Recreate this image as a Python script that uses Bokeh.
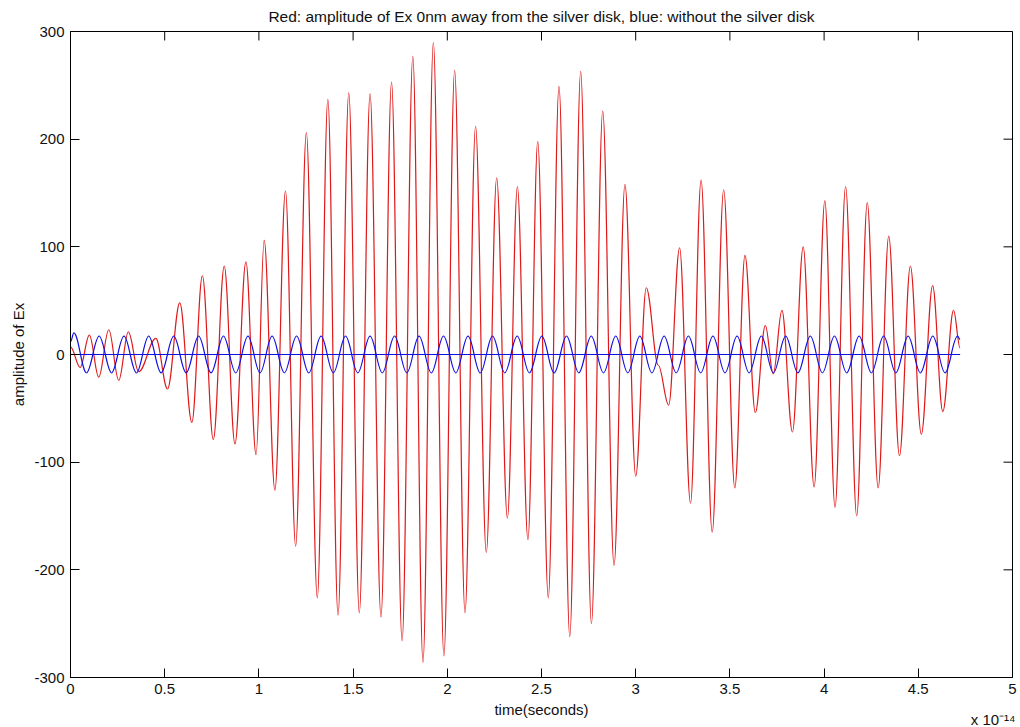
import numpy as np
from bokeh.plotting import figure
from bokeh.models import FixedTicker, NumeralTickFormatter, Range1d, Title
from bokeh.embed import file_html
from bokeh.resources import INLINE

# ---- data (time in units of 1e-14 s) ----
red_t = [0.000, 0.051, 0.100, 0.150, 0.203, 0.256, 0.307, 0.362, 0.453, 0.515,
         0.580, 0.644, 0.700, 0.758, 0.816, 0.873, 0.931, 0.985, 1.028, 1.085,
         1.141, 1.195, 1.252, 1.310, 1.366, 1.420, 1.477, 1.533, 1.590, 1.648,
         1.704, 1.760, 1.817, 1.871, 1.926, 1.982, 2.039, 2.094, 2.150, 2.207,
         2.262, 2.319, 2.372, 2.428, 2.480, 2.536, 2.593, 2.650, 2.708, 2.765,
         2.825, 2.885, 2.943, 3.000, 3.056, 3.120, 3.175, 3.233, 3.291, 3.347,
         3.406, 3.467, 3.526, 3.580, 3.635, 3.688, 3.730, 3.776, 3.832, 3.889,
         3.947, 4.004, 4.058, 4.114, 4.173, 4.229, 4.287, 4.343, 4.400, 4.458,
         4.516, 4.576, 4.630, 4.687, 4.722]
red_v = [7, -12, 18, -21, 23, -24, 21, -16, 15, -32,
         48, -63, 73, -79, 82, -83, 86, -93, 106, -126,
         152, -178, 206, -226, 237, -242, 243, -240, 242, -244,
         253, -266, 277, -286, 290, -280, 264, -240, 212, -184,
         164, -152, 156, -172, 198, -226, 249, -262, 263, -250,
         226, -196, 158, -113, 62, -10, -47, 99, -138, 162,
         -165, 153, -124, 92, -54, 27, -18, 41, -72, 100,
         -123, 143, -142, 156, -150, 141, -124, 110, -94, 82,
         -74, 64, -53, 41, 6]

blue_start_t, blue_start_v = 0.0, 12
blue_end_t, blue_end_v = 4.722, 14
blue_peak_t = [0.018, 0.152, 0.284, 0.415, 0.548, 0.680, 0.812, 0.942, 1.070, 1.200,
               1.330, 1.460, 1.590, 1.720, 1.850, 1.980, 2.110, 2.240, 2.371, 2.502,
               2.633, 2.764, 2.894, 3.022, 3.151, 3.280, 3.410, 3.538, 3.667, 3.796,
               3.927, 4.055, 4.186, 4.316, 4.446, 4.577, 4.708]
blue_peak_v = [20] + [17] * 36
blue_trough_t = [0.085, 0.218, 0.350, 0.481, 0.614, 0.746, 0.877, 1.006, 1.135, 1.265,
                 1.395, 1.525, 1.655, 1.785, 1.915, 2.045, 2.175, 2.305, 2.436, 2.567,
                 2.698, 2.829, 2.958, 3.086, 3.215, 3.345, 3.474, 3.602, 3.731, 3.861,
                 3.991, 4.120, 4.251, 4.381, 4.511, 4.642]
blue_trough_v = [-17] * 36

zero_t = [0.0, 4.722]
zero_v = [0, 0]

x_ticks = [0, 0.5, 1, 1.5, 2, 2.5, 3, 3.5, 4, 4.5, 5]
y_ticks = [-300, -200, -100, 0, 100, 200, 300]
x_min, x_max = 0, 5
y_min, y_max = -300, 300

title_text = "Red: amplitude of Ex 0nm away from the silver disk, blue: without the silver disk"
x_label = "time(seconds)"
y_label = "amplitude of Ex"
x_exponent = "x 10\u207b\u00b9\u2074"

# ---- build blue sequence (extrema in time order) ----
blue_t = [blue_start_t]
blue_v = [blue_start_v]
for i in range(len(blue_peak_t)):
    blue_t.append(blue_peak_t[i]); blue_v.append(blue_peak_v[i])
    if i < len(blue_trough_t):
        blue_t.append(blue_trough_t[i]); blue_v.append(blue_trough_v[i])
blue_t.append(blue_end_t); blue_v.append(blue_end_v)

FONT = "Liberation Sans"
TXT = "#111111"
RED = "#e01818"
BLUE = "#1010e0"
FW, FH = 942, 646
TICK = 9

p = figure(frame_width=FW, frame_height=FH,
           x_range=Range1d(x_min, x_max), y_range=Range1d(y_min, y_max),
           output_backend="svg", toolbar_location=None, title=title_text,
           min_border_left=70, min_border_right=8, min_border_top=31, min_border_bottom=50)
p.background_fill_color = "white"
p.border_fill_color = "white"
p.outline_line_color = "black"
p.xgrid.visible = False
p.ygrid.visible = False

p.title.text_font = FONT
p.title.text_font_size = "15.5px"
p.title.text_font_style = "normal"
p.title.align = "center"
p.title.vertical_align = "top"
p.title.text_color = TXT
p.title.standoff = 10

p.xaxis.ticker = FixedTicker(ticks=x_ticks)
p.yaxis.ticker = FixedTicker(ticks=y_ticks)
p.xaxis.formatter = NumeralTickFormatter(format="0.[0]")
p.yaxis.formatter = NumeralTickFormatter(format="0")
for ax in (p.xaxis[0], p.yaxis[0]):
    ax.axis_line_color = "black"
    ax.major_tick_line_color = "black"
    ax.major_tick_in = TICK
    ax.major_tick_out = 0
    ax.minor_tick_line_color = None
    ax.major_label_text_font = FONT
    ax.major_label_text_font_size = "15px"
    ax.major_label_text_color = TXT
    ax.major_label_standoff = 6
    ax.axis_label_text_font = FONT
    ax.axis_label_text_font_size = "15px"
    ax.axis_label_text_font_style = "normal"
    ax.axis_label_text_color = TXT
p.xaxis.axis_label = x_label
p.yaxis.axis_label = y_label
p.xaxis.axis_label_standoff = 4
p.yaxis.axis_label_standoff = 4

# inward ticks on the top and right edges of the box (lengths in pixels -> data units)
ty = TICK * (y_max - y_min) / FH
tx = TICK * (x_max - x_min) / FW
p.segment(x0=x_ticks, y0=[y_max] * len(x_ticks), x1=x_ticks, y1=[y_max - ty] * len(x_ticks),
          line_color="black", line_width=1)
p.segment(x0=[x_max] * len(y_ticks), y0=y_ticks, x1=[x_max - tx] * len(y_ticks), y1=y_ticks,
          line_color="black", line_width=1)

A = 1.0 - 2.0 / np.pi  # control-handle fraction giving a sinusoid-like segment


def draw_wave(t, v, color):
    t = np.asarray(t, dtype=float)
    v = np.asarray(v, dtype=float)
    dt = t[1:] - t[:-1]
    p.bezier(x0=t[:-1], y0=v[:-1], x1=t[1:], y1=v[1:],
             cx0=t[:-1] + A * dt, cy0=v[:-1], cx1=t[1:] - A * dt, cy1=v[1:],
             line_color=color, line_width=1.2)


draw_wave(red_t, red_v, RED)
draw_wave(blue_t, blue_v, BLUE)
p.line(zero_t, zero_v, line_color=BLUE, line_width=1.2)

p.add_layout(Title(text=x_exponent, align="right", offset=-3, vertical_align="top",
                   text_font=FONT, text_font_size="15px", text_font_style="normal",
                   text_color=TXT, standoff=-20), "below")

open("out.html", "w").write(file_html(p, INLINE))
